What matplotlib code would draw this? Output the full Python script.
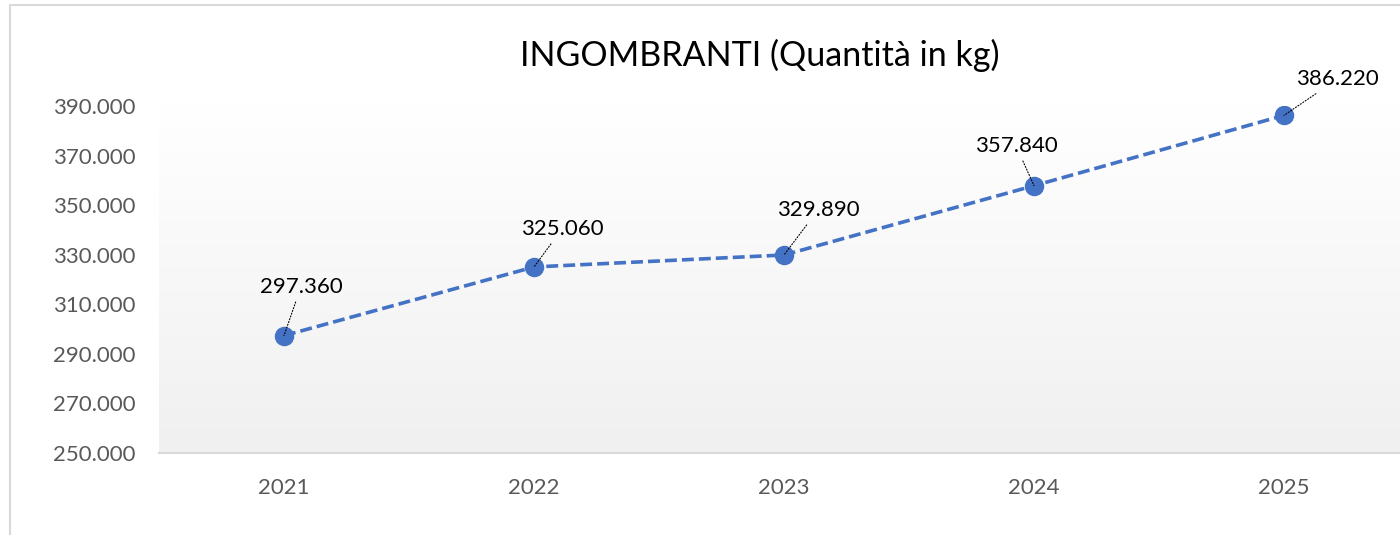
import numpy as np
import matplotlib.pyplot as plot
from matplotlib.colors import LinearSegmentedColormap
from matplotlib.patches import Rectangle

years = ["2021", "2022", "2023", "2024", "2025"]
quantities = [297360, 325060, 329890, 357840, 386220]
y_ticks = [250000, 270000, 290000, 310000, 330000, 350000, 370000, 390000]

# label offsets in pixels (dx, dy) relative to each point
label_offsets = [(17, 49), (28, 38), (34, 45), (-18, 40), (53, 36)]


def fmt(v):
  return f"{v:,}".replace(",", ".")


def main():
  plot.rcParams["font.family"] = ["Lato", "DejaVu Sans"]
  figure = plot.figure(figsize=(14, 5.35), dpi=100)

  # outer chart frame
  figure.patches.append(Rectangle((10 / 1400, -0.1), 1.2, 1 - 5 / 535 + 0.1,
                                  transform=figure.transFigure, fill=False,
                                  edgecolor="#d9d9d9", linewidth=1.5))

  axes = figure.add_axes([159 / 1400, 82 / 535, 1250 / 1400, 347 / 535])
  x = np.arange(len(years))

  # gradient fill of plot area
  gradient = np.linspace(1, 0, 256).reshape(-1, 1)
  cmap = LinearSegmentedColormap.from_list("fill", ["#ffffff", "#f0f0f0"])
  axes.imshow(gradient, extent=(-0.5, len(years) - 0.5, y_ticks[0], y_ticks[-1]),
              aspect="auto", cmap=cmap, origin="lower", zorder=0)

  axes.plot(x, quantities, color="#4472C4", linewidth=2.6, linestyle=(0, (3.3, 1.4)),
            marker="o", markersize=13, zorder=3)

  for xi, v, (dx, dy) in zip(x, quantities, label_offsets):
    axes.annotate(fmt(v), xy=(xi, v), xytext=(dx, dy), textcoords="offset pixels",
                  ha="center", va="center", fontsize=16, color="black",
                  arrowprops=dict(arrowstyle="-", linestyle=":", color="black",
                                  linewidth=0.8, shrinkA=2, shrinkB=0),
                  zorder=4)

  axes.set_xlim(-0.5, len(years) - 0.5)
  axes.set_ylim(y_ticks[0], y_ticks[-1])
  axes.set_xticks(x)
  axes.set_xticklabels(years)
  axes.set_yticks(y_ticks)
  axes.set_yticklabels([fmt(t) for t in y_ticks])
  axes.tick_params(axis="both", length=0, labelsize=16, labelcolor="#595959")
  axes.tick_params(axis="x", pad=18)
  axes.tick_params(axis="y", pad=17)
  for side in ["top", "left", "right"]:
    axes.spines[side].set_visible(False)
  axes.spines["bottom"].set_color("#d9d9d9")
  axes.spines["bottom"].set_linewidth(1.5)

  figure.text(760 / 1400, 1 - 55 / 535, "INGOMBRANTI (Quantità in kg)",
              ha="center", va="center", fontsize=24.5, color="black")

  plot.savefig("out.png", dpi=100)
  plot.close()


if __name__ == "__main__":
  main()
